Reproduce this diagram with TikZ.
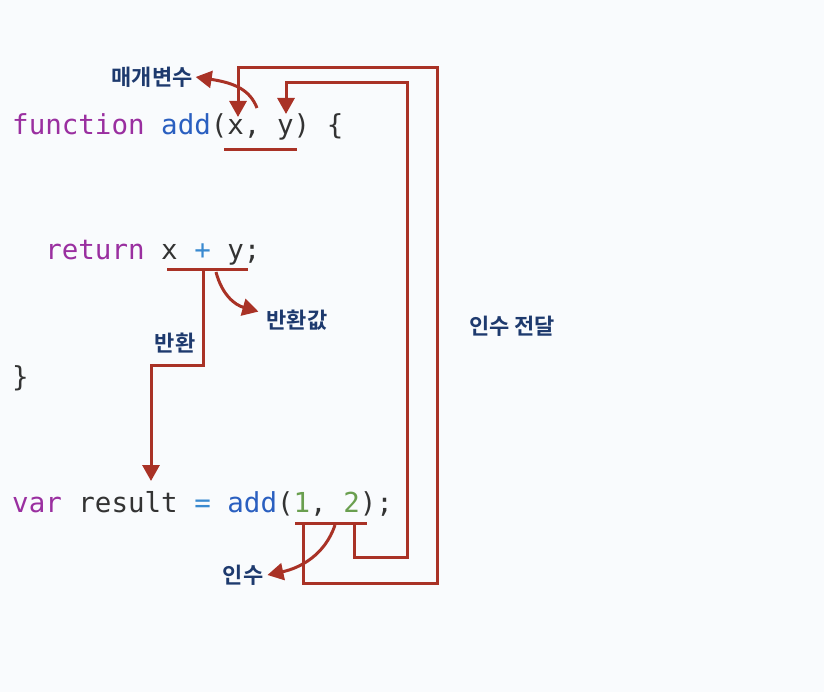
\documentclass[tikz,border=0pt]{standalone}
\usepackage{fontspec}
\setmonofont{DejaVu Sans Mono}
\newfontfamily\kr{Noto Sans CJK KR Bold}
\usetikzlibrary{arrows.meta}
\definecolor{kw}{HTML}{9A2FA0}
\definecolor{fn}{HTML}{2A5FC0}
\definecolor{num}{HTML}{6A9F4F}
\definecolor{op}{HTML}{3A8AD0}
\definecolor{txt}{HTML}{333333}
\definecolor{rd}{HTML}{A93226}
\definecolor{lbl}{HTML}{1E3A6E}
\definecolor{bg}{HTML}{F9FBFD}
\begin{document}
\begin{tikzpicture}[x=1pt,y=-1pt,
  code/.style={anchor=west,inner sep=0pt,font=\ttfamily\fontsize{27.5}{30}\selectfont,text=txt},
  lab/.style={inner sep=0pt,font=\kr\fontsize{22}{24}\selectfont,text=lbl},
  conn/.style={draw=rd,line width=3pt,-{Triangle[width=17pt,length=16pt]}},
  ul/.style={draw=rd,line width=3pt}]
\fill[bg] (0,0) rectangle (824,692);
\useasboundingbox (0,0) rectangle (824,692);
\node[code] (l1) at (12,127) {\textcolor{kw}{function} \textcolor{fn}{add}(x, y) \{};
\node[code] (l2) at (12,253) {\ \ \textcolor{kw}{return} x \textcolor{op}{+} y;};
\node[code] (l3) at (12,378) {\}};
\node[code] (l4) at (12,504) {\textcolor{kw}{var} result \textcolor{op}{=} \textcolor{fn}{add}(\textcolor{num}{1}, \textcolor{num}{2});};
\node[lab] (p) at (152,77) {매개변수};
\node[lab] (rv) at (297,320) {반환값};
\node[lab] (rt) at (175,343) {반환};
\node[lab] (ar) at (243,575) {인수};
\node[lab] (pass) at (512,326) {인수 전달};
\coordinate (u1a) at (224,150); \coordinate (u1b) at (297,150);
\coordinate (u2a) at (167,270); \coordinate (u2b) at (248,270);
\coordinate (u4a) at (295,523); \coordinate (u4b) at (367,523);
\draw[ul] (u1a) -- (u1b);
\draw[ul] (u2a) -- (u2b);
\draw[ul] (u4a) -- (u4b);
\coordinate (tx) at (238,117); \coordinate (ty) at (286,114);
\coordinate (tr) at (151,481);
\draw[conn] (303,523) -- (303,583) -- (437,583) -- (437,68) -- (238,68) -- (tx);
\draw[conn] (354,523) -- (354,557) -- (407,557) -- (407,83) -- (286,83) -- (ty);
\draw[conn] (257,108) .. controls (250,90) and (235,83) .. ([xshift=3pt]p.east);
\draw[conn] (203,270) -- (203,365) -- (151,365) -- (tr);
\draw[conn] (216,272) .. controls (222,295) and (235,305) .. ([xshift=-8pt,yshift=-2pt]rv.north west);
\draw[conn] (335,525) .. controls (325,555) and (300,568) .. ([xshift=4pt]ar.east);
\end{tikzpicture}
\end{document}
